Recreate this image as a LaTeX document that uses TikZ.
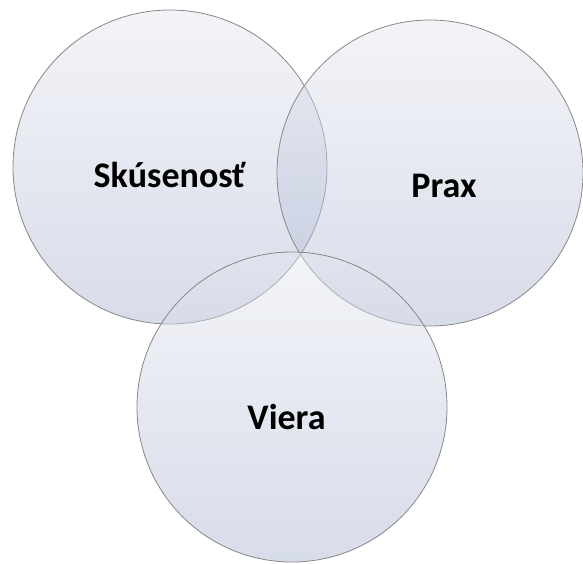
\documentclass[tikz,border=0pt]{standalone}
\usepackage{fontspec}
\setmainfont{Carlito}
\definecolor{vtop}{RGB}{228,231,239}
\definecolor{vbot}{RGB}{168,178,208}
\definecolor{vline}{RGB}{135,135,135}
\tikzset{
  venn/.style={circle, draw=vline, line width=0.8pt, top color=vtop, bottom color=vbot,
    fill opacity=0.45, draw opacity=1, inner sep=0pt, outer sep=0pt},
  lbl/.style={anchor=base, font=\bfseries\fontsize{36}{42}\selectfont, text=black, inner sep=0pt}
}
\begin{document}
\begin{tikzpicture}[x=1pt,y=-1pt]
\useasboundingbox (0,0) rectangle (583,564);
\node[venn, minimum size=314pt] (cskus) at (170,167) {};
\node[venn, minimum size=306pt] (cprax) at (430,173) {};
\node[venn, minimum size=310pt] (cviera) at (292,407) {};
\node[lbl] (tskus) at (169.5,187) {Skúsenosť};
\node[lbl] (tprax) at (444,197) {Prax};
\node[lbl] (tviera) at (286.5,429) {Viera};
\end{tikzpicture}
\end{document}
